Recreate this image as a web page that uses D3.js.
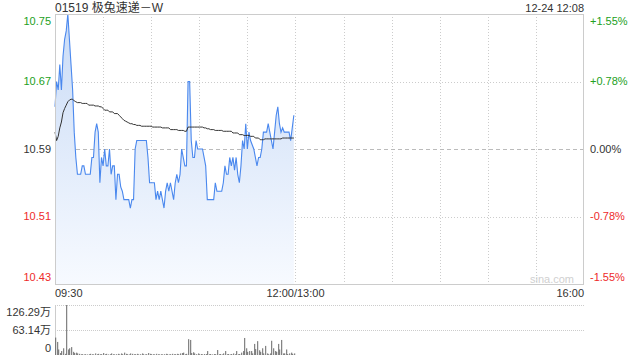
<!DOCTYPE html>
<html>
<head>
<meta charset="utf-8">
<script src="https://cdn.jsdelivr.net/npm/d3@7"></script>
<style>
html,body{margin:0;padding:0;background:#fff;}
svg{display:block;font-family:"Liberation Sans",Arial,sans-serif;}
</style>
</head>
<body>
<svg id="chart" width="640" height="360"></svg>
<script>
// ---------------- data ----------------
const title = "01519 极兔速递－W";
const stamp = "12-24 12:08";
const prevClose = 10.59;
const priceTicks = [10.75, 10.67, 10.59, 10.51, 10.43];
const pctTicks = ["+1.55%", "+0.78%", "0.00%", "-0.78%", "-1.55%"];
const timeLabels = ["09:30", "12:00/13:00", "16:00"];
const timeLabelPos = [0, 150, 330];
const volTicks = [126.29, 63.14, 0];
const volTickLabels = ["126.29万", "63.14万", "0"];

// minute-by-minute price (09:30 .. 11:59)
const price = [
10.64,10.67,10.66,10.69,10.66,10.70,10.72,10.73,10.75,10.72,
10.69,10.66,10.61,10.58,10.56,10.56,10.56,10.57,10.57,10.56,
10.56,10.56,10.56,10.58,10.58,10.61,10.62,10.61,10.55,10.58,
10.57,10.59,10.57,10.57,10.59,10.56,10.57,10.57,10.53,10.56,
10.56,10.545,10.54,10.53,10.53,10.53,10.53,10.52,10.53,10.53,
10.59,10.60,10.60,10.60,10.60,10.60,10.60,10.60,10.58,10.55,
10.55,10.55,10.55,10.53,10.54,10.53,10.54,10.53,10.52,10.54,
10.55,10.54,10.55,10.54,10.53,10.55,10.56,10.55,10.56,10.59,
10.58,10.57,10.57,10.67,10.67,10.60,10.58,10.58,10.60,10.59,
10.59,10.59,10.59,10.58,10.57,10.53,10.53,10.53,10.53,10.53,
10.55,10.54,10.54,10.54,10.54,10.55,10.57,10.56,10.56,10.58,
10.57,10.58,10.565,10.58,10.56,10.55,10.57,10.60,10.59,10.62,
10.59,10.61,10.60,10.595,10.59,10.58,10.57,10.58,10.58,10.59,
10.61,10.61,10.61,10.62,10.61,10.60,10.59,10.61,10.63,10.64,
10.62,10.61,10.615,10.61,10.61,10.61,10.61,10.60,10.615,10.63
];
// average price line
const avgPrice = [
10.610,10.600,10.605,10.615,10.622,10.633,10.638,10.642,10.646,10.648,
10.649,10.649,10.647,10.646,10.645,10.645,10.645,10.644,10.644,10.644,
10.644,10.642,10.642,10.642,10.642,10.641,10.641,10.641,10.640,10.640,
10.638,10.636,10.636,10.636,10.634,10.634,10.634,10.632,10.632,10.632,
10.630,10.628,10.626,10.624,10.623,10.622,10.621,10.620,10.620,10.619,
10.619,10.618,10.618,10.618,10.617,10.617,10.617,10.617,10.617,10.617,
10.617,10.616,10.616,10.616,10.616,10.616,10.616,10.615,10.615,10.615,
10.615,10.615,10.613,10.613,10.613,10.613,10.613,10.612,10.612,10.612,
10.612,10.611,10.611,10.616,10.616,10.616,10.616,10.616,10.616,10.616,
10.616,10.616,10.616,10.615,10.615,10.614,10.614,10.613,10.613,10.613,
10.612,10.612,10.612,10.612,10.612,10.611,10.611,10.611,10.611,10.611,
10.611,10.609,10.609,10.609,10.609,10.607,10.607,10.607,10.606,10.606,
10.606,10.606,10.605,10.605,10.605,10.603,10.603,10.603,10.601,10.601,
10.601,10.602,10.602,10.602,10.602,10.602,10.602,10.602,10.602,10.602,
10.602,10.602,10.603,10.603,10.603,10.603,10.603,10.603,10.603,10.603
];
// volume per minute, in 万
const volume = [
44,33,14,5,10,17,3,126.29,14,17,
20,8,5,6,4,3,2,2,1.5,2,
1.5,2,3,2,1.5,4,2,3,2,2,
5,2,3,1.5,2,4,2,1.5,2,3,
1.5,4,2,6,3,2,1.5,4,3,2,
2,3,1.5,2,4,2,1.5,2,5,3,
2,2,1.5,3,2,1.5,2,1.5,2,3,
2,1.5,2,3,2,2,3,2,4,5,
6,2,3,40,38,5,7,4,2,4,
2,2.5,1.5,2.5,2.5,10,2,2.5,1.5,2.5,
2,12.6,2,2.5,1.5,4,10,2,2.5,1.5,
2.5,4,2,10,2,2.5,6,10,43,17,
8,10,10,4,28,15,35,12,8,17,
4,23,4,2,4,36,17,10,8,28,
14,38,4,4,14,2.5,4,6,3,4
];

// ---------------- layout ----------------
const L = 55, R = 584, T = 14, B = 284;
const VT = 305, VB = 355;
const svg = d3.select("#chart");
const green = "#22a022", red = "#ee2a2a", dark = "#333";

const x = d3.scaleLinear().domain([0, 330]).range([L, R]);
const y = d3.scaleLinear().domain([10.43, 10.75]).range([B, T]);
const yv = d3.scaleLinear().domain([0, 126.29]).range([VB, VT]);

// gradient
const defs = svg.append("defs");
const grad = defs.append("linearGradient").attr("id", "fillg")
  .attr("gradientUnits", "userSpaceOnUse").attr("x1", 0).attr("y1", T).attr("x2", 0).attr("y2", B);
grad.append("stop").attr("offset", "0").attr("stop-color", "#c9dbf6");
grad.append("stop").attr("offset", "1").attr("stop-color", "#f7faff");

// vertical grid
const vgrid = d3.range(30, 330, 30);
svg.append("g").selectAll("line").data(vgrid).join("line")
  .attr("x1", d => Math.round(x(d)) + 0.5).attr("x2", d => Math.round(x(d)) + 0.5)
  .attr("y1", T).attr("y2", B)
  .attr("stroke", "#cccccc").attr("stroke-dasharray", "1,2");

// horizontal grid
svg.append("g").selectAll("line").data([10.67, 10.51]).join("line")
  .attr("x1", L).attr("x2", R)
  .attr("y1", d => Math.round(y(d)) + 0.5).attr("y2", d => Math.round(y(d)) + 0.5)
  .attr("stroke", "#cccccc").attr("stroke-dasharray", "1,2");
svg.append("line")
  .attr("x1", L).attr("x2", R)
  .attr("y1", Math.round(y(prevClose)) + 0.5).attr("y2", Math.round(y(prevClose)) + 0.5)
  .attr("stroke", "#bbbbbb").attr("stroke-dasharray", "4,3");

// area + lines
const area = d3.area().x((d, i) => x(i)).y0(B).y1(d => y(d));
svg.append("path").datum(price).attr("d", area).attr("fill", "url(#fillg)");
const line = d3.line().x((d, i) => x(i)).y(d => y(d));
svg.append("path").datum(price).attr("d", line)
  .attr("fill", "none").attr("stroke", "#4a88ee").attr("stroke-width", 1.1);
svg.append("path").datum(avgPrice).attr("d", line)
  .attr("fill", "none").attr("stroke", "#333").attr("stroke-width", 1);

// border
svg.append("rect").attr("x", L + 0.5).attr("y", T + 0.5)
  .attr("width", R - L - 1).attr("height", B - T)
  .attr("fill", "none").attr("stroke", "#cccccc");

// left axis labels
const priceColor = d => d > prevClose ? green : (d < prevClose ? red : dark);
const yShift = (i) => i === 0 ? 7 : (i === priceTicks.length - 1 ? -6.5 : 0);
const gl = svg.append("g").attr("transform", `translate(${L - 4},0)`)
  .call(d3.axisLeft(y).tickValues(priceTicks).tickSize(0).tickPadding(0).tickFormat(d3.format(".2f")));
gl.select(".domain").remove();
gl.selectAll(".tick").attr("transform", (d, i) => `translate(0,${y(d) + yShift(i)})`);
gl.selectAll("text").attr("font-size", 11).attr("font-family", "Liberation Sans, Arial, sans-serif")
  .attr("fill", d => priceColor(d));

// right axis labels
const gr = svg.append("g").attr("transform", `translate(${R + 6},0)`)
  .call(d3.axisRight(y).tickValues(priceTicks).tickSize(0).tickPadding(0)
    .tickFormat((d, i) => pctTicks[i]));
gr.select(".domain").remove();
gr.selectAll(".tick").attr("transform", (d, i) => `translate(0,${y(d) + yShift(i)})`);
gr.selectAll("text").attr("font-size", 11).attr("font-family", "Liberation Sans, Arial, sans-serif")
  .attr("fill", d => priceColor(d));

// title & timestamp
svg.append("text").attr("x", L).attr("y", 12).text(title)
  .attr("font-size", 12).attr("fill", dark)
  .attr("font-family", "Liberation Sans, 'Noto Sans CJK SC', sans-serif");
svg.append("text").attr("x", R).attr("y", 12).attr("text-anchor", "end").text(stamp)
  .attr("font-size", 11).attr("fill", dark);

// watermark
svg.append("text").attr("x", 574).attr("y", 283).attr("text-anchor", "end").text("sina.com")
  .attr("font-size", 11).attr("fill", "#d0d0d0");

// time labels
svg.append("g").selectAll("text").data(timeLabels).join("text")
  .attr("x", (d, i) => x(timeLabelPos[i]))
  .attr("y", 297)
  .attr("text-anchor", (d, i) => i === 0 ? "start" : (i === timeLabels.length - 1 ? "end" : "middle"))
  .attr("font-size", 11).attr("fill", dark).text(d => d);

// volume panel
svg.append("g").selectAll("line").data([126.29, 63.14]).join("line")
  .attr("x1", L).attr("x2", R)
  .attr("y1", d => Math.round(yv(d)) + 0.5).attr("y2", d => Math.round(yv(d)) + 0.5)
  .attr("stroke", "#cccccc").attr("stroke-dasharray", "1,1");
svg.append("line").attr("x1", L + 0.5).attr("x2", L + 0.5).attr("y1", VT).attr("y2", VB)
  .attr("stroke", "#cccccc");
svg.append("g").selectAll("rect").data(volume).join("rect")
  .attr("x", (d, i) => Math.round(x(i)) + 0.2)
  .attr("width", 1)
  .attr("y", d => yv(d))
  .attr("height", d => VB - yv(d))
  .attr("fill", "#666");
svg.append("g").selectAll("text").data(volTickLabels).join("text")
  .attr("x", 51).attr("y", (d, i) => [316, 334, 352][i])
  .attr("text-anchor", "end").attr("font-size", 11).attr("fill", dark)
  .attr("font-family", "Liberation Sans, 'Noto Sans CJK SC', sans-serif")
  .text(d => d);
</script>
</body>
</html>
